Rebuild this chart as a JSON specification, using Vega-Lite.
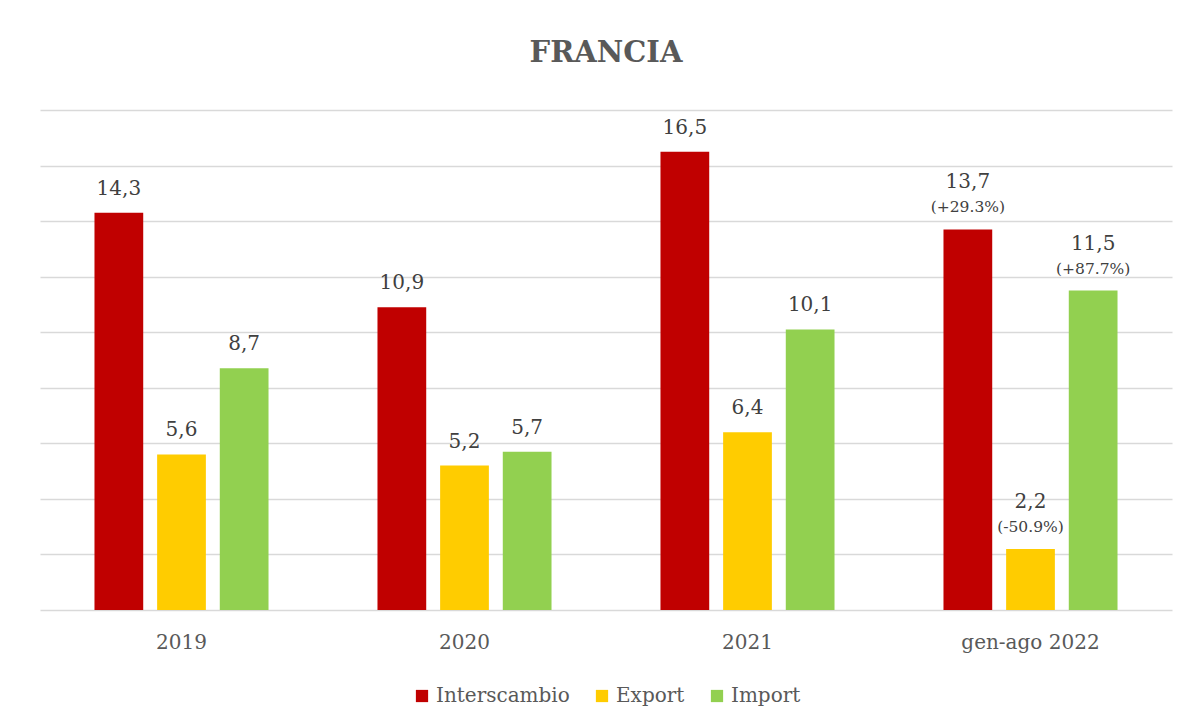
{
  "$schema": "https://vega.github.io/schema/vega-lite/v6.json",
  "width": 1132,
  "height": 500,
  "autosize": {"type": "none"},
  "padding": {"left": 40, "top": 110, "right": 17, "bottom": 114},
  "background": "white",
  "title": {
    "text": "FRANCIA",
    "font": "DejaVu Serif",
    "fontSize": 29,
    "fontWeight": "bold",
    "color": "#595959",
    "anchor": "middle",
    "offset": 42
  },
  "data": {
    "values": [
      {"periodo": "2019", "serie": "Interscambio", "valore": 14.3, "label": "14,3", "pct": ""},
      {"periodo": "2019", "serie": "Export", "valore": 5.6, "label": "5,6", "pct": ""},
      {"periodo": "2019", "serie": "Import", "valore": 8.7, "label": "8,7", "pct": ""},
      {"periodo": "2020", "serie": "Interscambio", "valore": 10.9, "label": "10,9", "pct": ""},
      {"periodo": "2020", "serie": "Export", "valore": 5.2, "label": "5,2", "pct": ""},
      {"periodo": "2020", "serie": "Import", "valore": 5.7, "label": "5,7", "pct": ""},
      {"periodo": "2021", "serie": "Interscambio", "valore": 16.5, "label": "16,5", "pct": ""},
      {"periodo": "2021", "serie": "Export", "valore": 6.4, "label": "6,4", "pct": ""},
      {"periodo": "2021", "serie": "Import", "valore": 10.1, "label": "10,1", "pct": ""},
      {"periodo": "gen-ago 2022", "serie": "Interscambio", "valore": 13.7, "label": "13,7", "pct": "(+29.3%)"},
      {"periodo": "gen-ago 2022", "serie": "Export", "valore": 2.2, "label": "2,2", "pct": "(-50.9%)"},
      {"periodo": "gen-ago 2022", "serie": "Import", "valore": 11.5, "label": "11,5", "pct": "(+87.7%)"}
    ]
  },
  "encoding": {
    "x": {
      "field": "periodo",
      "type": "nominal",
      "sort": null,
      "title": null,
      "scale": {"paddingInner": 0.385, "paddingOuter": 0.1925},
      "axis": {
        "labelAngle": 0,
        "labelFont": "DejaVu Serif",
        "labelFontSize": 20,
        "labelColor": "#595959",
        "labelPadding": 22,
        "ticks": false,
        "domain": false,
        "grid": false
      }
    },
    "xOffset": {
      "field": "serie",
      "type": "nominal",
      "sort": ["Interscambio", "Export", "Import"],
      "scale": {"paddingInner": 0.222, "paddingOuter": 0}
    },
    "y": {
      "field": "valore",
      "type": "quantitative",
      "title": null,
      "scale": {"domain": [0, 18], "nice": false},
      "axis": {
        "values": [0, 2, 4, 6, 8, 10, 12, 14, 16, 18],
        "labels": false,
        "ticks": false,
        "domain": false,
        "grid": true,
        "gridColor": "#D9D9D9",
        "gridWidth": 1.5
      }
    }
  },
  "layer": [
    {
      "mark": {"type": "bar"},
      "encoding": {
        "color": {
          "field": "serie",
          "type": "nominal",
          "sort": ["Interscambio", "Export", "Import"],
          "scale": {
            "domain": ["Interscambio", "Export", "Import"],
            "range": ["#C00000", "#FFCC00", "#92D050"]
          },
          "legend": {
            "title": null,
            "orient": "bottom",
            "direction": "horizontal",
            "symbolType": "square",
            "symbolSize": 150,
            "symbolStrokeWidth": 0,
            "labelFont": "DejaVu Serif",
            "labelFontSize": 20,
            "labelColor": "#595959",
            "columnPadding": 22,
            "offset": 34
          }
        }
      }
    },
    {
      "transform": [{"filter": "datum.pct == ''"}],
      "mark": {"type": "text", "baseline": "bottom", "dy": -14, "font": "DejaVu Serif", "fontSize": 20, "color": "#404040"},
      "encoding": {"text": {"field": "label"}}
    },
    {
      "transform": [{"filter": "datum.pct != ''"}],
      "mark": {"type": "text", "baseline": "bottom", "dy": -37, "font": "DejaVu Serif", "fontSize": 20, "color": "#404040"},
      "encoding": {"text": {"field": "label"}}
    },
    {
      "transform": [{"filter": "datum.pct != ''"}],
      "mark": {"type": "text", "baseline": "bottom", "dy": -14, "font": "DejaVu Serif", "fontSize": 15.5, "color": "#404040"},
      "encoding": {"text": {"field": "pct"}}
    }
  ],
  "config": {
    "view": {"stroke": null},
    "legend": {"layout": {"bottom": {"anchor": "middle"}}}
  }
}
